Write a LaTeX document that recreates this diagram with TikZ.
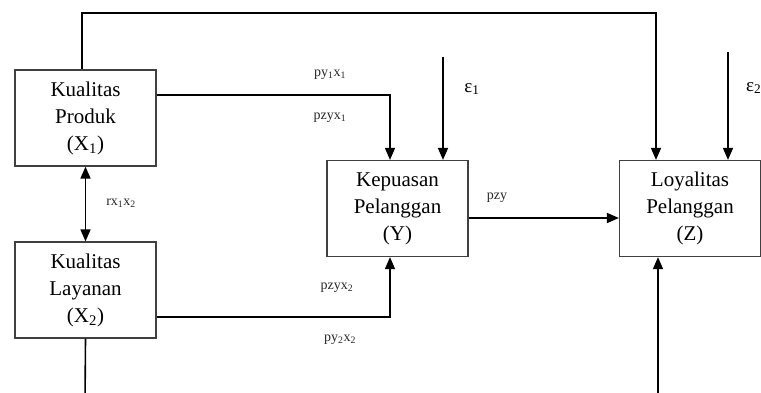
\documentclass[tikz,border=0pt]{standalone}
\usepackage{fontspec}
\setmainfont{Liberation Serif}
\usetikzlibrary{arrows.meta}
\begin{document}
\begin{tikzpicture}[x=1pt,y=-1pt,
 box/.style={draw=black!75, line width=1.2pt, minimum width=141pt, minimum height=96pt, inner sep=0pt, align=center, font=\fontsize{21}{27}\selectfont},
 conn/.style={line width=1.6pt, -{Triangle[width=10pt,length=12pt]}},
 lbl/.style={font=\fontsize{14}{16}\selectfont, inner sep=0pt, text=black!85},
 eps/.style={font=\fontsize{19}{21}\selectfont, inner sep=0pt}]
\useasboundingbox (0,0) rectangle (761,392);
\node[box] (x1) at (85.5,118) {Kualitas\\Produk\\(X\textsubscript{1})};
\node[box] (x2) at (85.5,290) {Kualitas\\Layanan\\(X\textsubscript{2})};
\node[box] (y) at (397.5,208.5) {Kepuasan\\Pelanggan\\(Y)};
\node[box] (z) at (690,208.5) {Loyalitas\\Pelanggan\\(Z)};
\coordinate (tl) at (82,13);
\coordinate (tr) at (656,13);
\coordinate (a1) at (390,95);
\coordinate (a2) at (390,317);
\coordinate (yz) at (0,218);
\coordinate (bl) at (85,405);
\coordinate (br) at (658,405);
\coordinate (e1) at (443,57);
\coordinate (e2) at (728,52);
\draw[conn] (x1.north -| tl) -- (tl) -- (tr) -- (tr |- z.north);
\draw[conn] (x1.east |- a1) -- (a1) -- (a1 |- y.north);
\draw[conn] (x2.east |- a2) -- (a2) -- (a2 |- y.south);
\draw[conn] (y.east |- yz) -- (z.west |- yz);
\draw[conn, {Triangle[width=10pt,length=12pt]}-{Triangle[width=10pt,length=12pt]}] (x1.south) -- (x2.north);
\draw[conn] (x2.south) -- (bl) -- (br) -- (br |- z.south);
\draw[conn] (e1) -- (e1 |- y.north);
\draw[conn] (e2) -- (e2 |- z.north);
\node[lbl] (l1) at (330,75) {py\textsubscript{1}x\textsubscript{1}};
\node[lbl] (l2) at (330,118) {pzyx\textsubscript{1}};
\node[lbl] (l3) at (337,288) {pzyx\textsubscript{2}};
\node[lbl] (l4) at (340,340) {py\textsubscript{2}x\textsubscript{2}};
\node[lbl] (l5) at (121,203) {rx\textsubscript{1}x\textsubscript{2}};
\node[lbl] (l6) at (497,198) {pzy};
\node[eps] (ep1) at (472,89) {ε\textsubscript{1}};
\node[eps, anchor=west] (ep2) at (746,88) {ε\textsubscript{2}};
\end{tikzpicture}
\end{document}
